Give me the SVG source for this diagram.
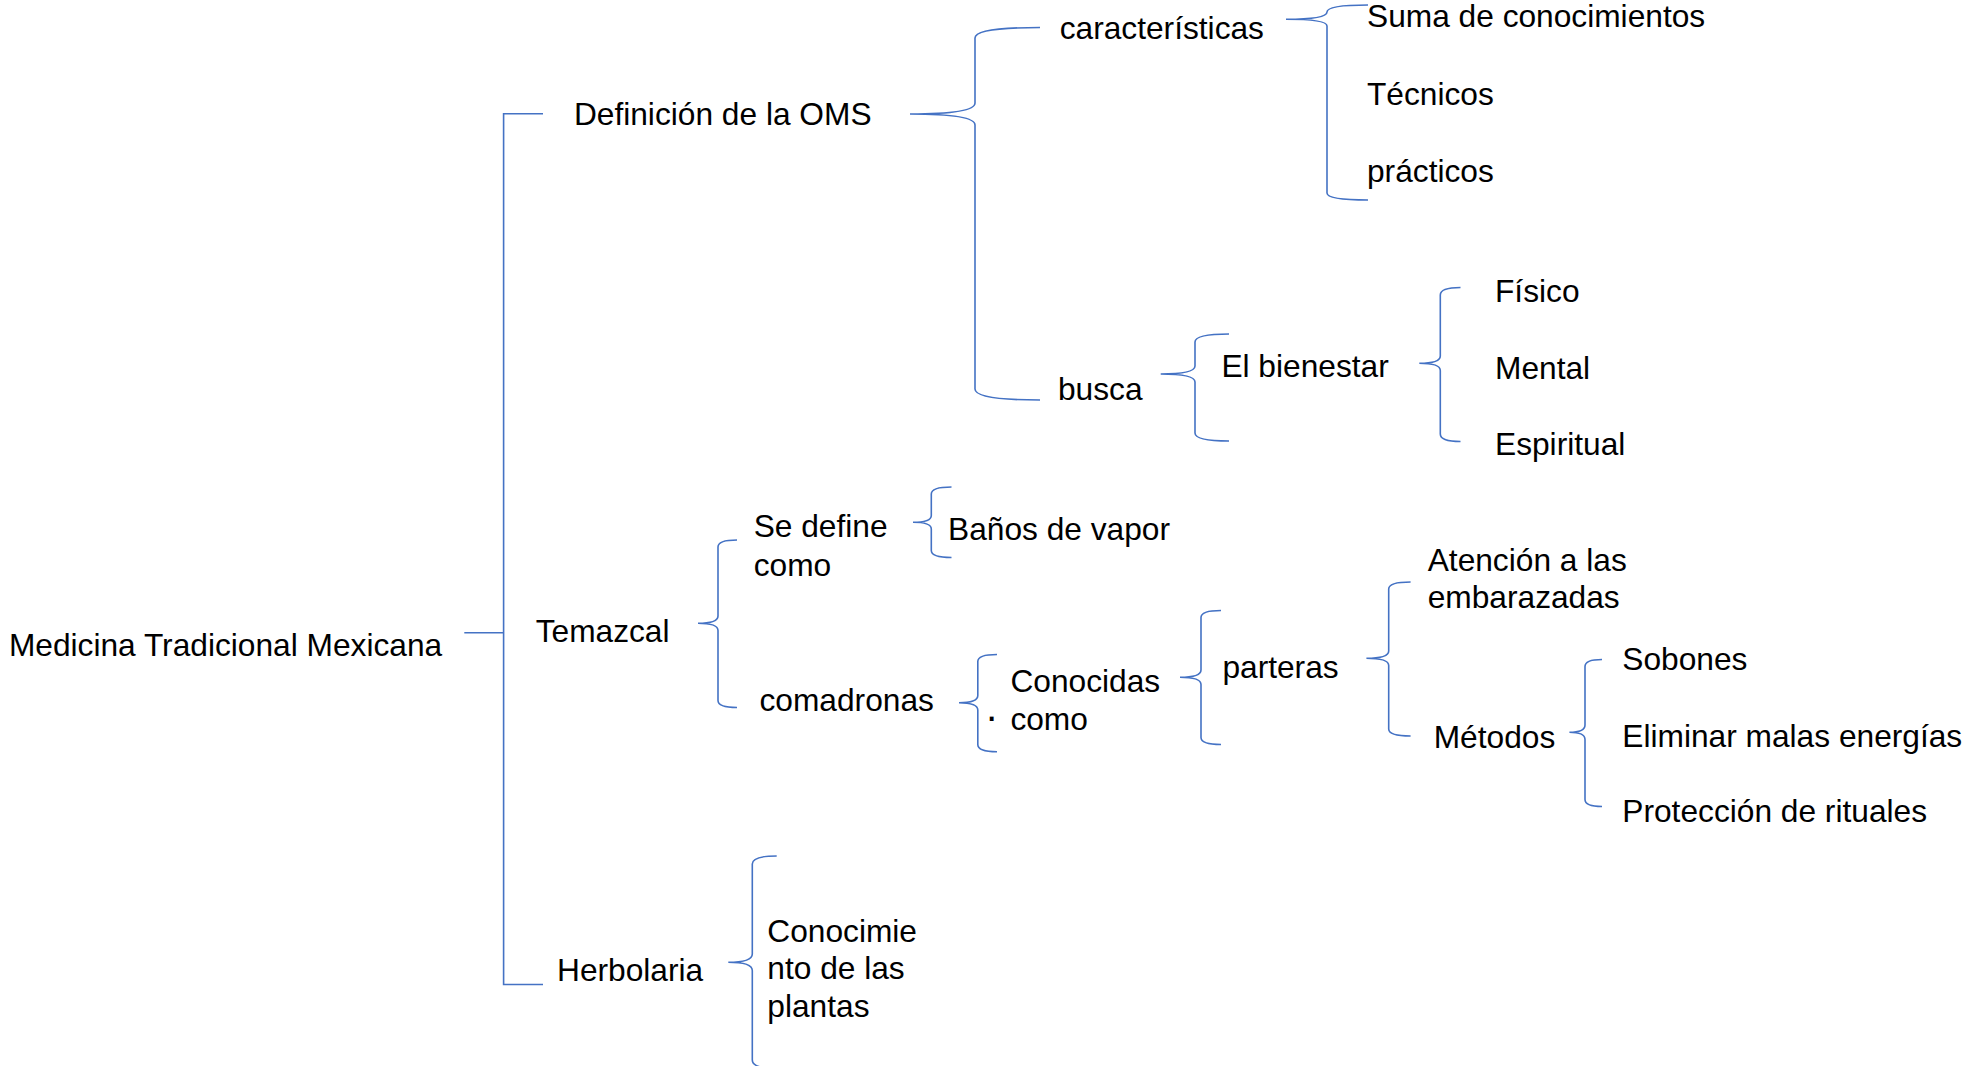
<svg xmlns="http://www.w3.org/2000/svg" width="1972" height="1066" viewBox="0 0 1972 1066">
<style>
  text { font-family: "Liberation Sans", Arial, sans-serif; font-size: 31.7px; fill: #000; }
  .c { fill: none; stroke: #4472C4; stroke-width: 1.6; }
</style>
<rect width="1972" height="1066" fill="#fff"/>
<g id="connectors">
  <path class="c" d="M464.3,632.7 H503.6"/>
  <path class="c" d="M543,113.7 H503.6 V984.5 H543"/>
  <path class="c" d="M1040,27.5 Q975,27.5 975,38 L975,103 Q975,114 910,114 Q975,114 975,125 L975,389 Q975,400 1040,400"/>
  <path class="c" d="M1368,5 Q1327,5 1327,12 Q1327,19.3 1286,19.3 Q1327,19.3 1327,26 L1327,193 Q1327,200 1368,200"/>
  <path class="c" d="M1229,334 Q1195,334 1195,342 L1195,366 Q1195,374 1160.7,374 Q1195,374 1195,382 L1195,433 Q1195,441 1229,441"/>
  <path class="c" d="M1460.5,287.5 Q1440.3,287.5 1440.3,295 L1440.3,356 Q1440.3,363.3 1419.3,363.3 Q1440.3,363.3 1440.3,370.5 L1440.3,434 Q1440.3,441.5 1460.5,441.5"/>
  <path class="c" d="M737,540 Q718,540 718,547 L718,616 Q718,623.3 698,623.3 Q718,623.3 718,630.5 L718,700.5 Q718,707.5 737,707.5"/>
  <path class="c" d="M951.5,487 Q931.3,487 931.3,494 L931.3,515.5 Q931.3,522.3 913,522.3 Q931.3,522.3 931.3,529 L931.3,550.5 Q931.3,557.5 951.5,557.5"/>
  <path class="c" d="M997,654.5 Q977.8,654.5 977.8,661.5 L977.8,695.5 Q977.8,702.7 959,702.7 Q977.8,702.7 977.8,710 L977.8,744.5 Q977.8,751.7 997,751.7"/>
  <path class="c" d="M1221,610.5 Q1201,610.5 1201,617.5 L1201,670 Q1201,677.3 1180,677.3 Q1201,677.3 1201,684.5 L1201,737.5 Q1201,744.5 1221,744.5"/>
  <path class="c" d="M1410.6,582 Q1388.7,582 1388.7,589 L1388.7,651 Q1388.7,658.3 1366.4,658.3 Q1388.7,658.3 1388.7,665.5 L1388.7,729 Q1388.7,736 1410.6,736"/>
  <path class="c" d="M1602,659.5 Q1585,659.5 1585,666.5 L1585,725 Q1585,732.3 1569.4,732.3 Q1585,732.3 1585,739.5 L1585,799.5 Q1585,806.5 1602,806.5"/>
  <path class="c" d="M776.7,856 Q752.3,856 752.3,864 L752.3,954 Q752.3,962.3 728.3,962.3 Q752.3,962.3 752.3,970.5 L752.3,1060 Q752.3,1068.5 776.7,1068.5"/>
</g>
<g id="root"><text x="8.9" y="656">Medicina Tradicional Mexicana</text></g>
<g id="definicion"><text x="573.9" y="125">Definición de la OMS</text></g>
<g id="temazcal"><text x="535.7" y="642">Temazcal</text></g>
<g id="herbolaria"><text x="557" y="981">Herbolaria</text></g>
<g id="caracteristicas"><text x="1059.7" y="38.5">características</text></g>
<g id="busca"><text x="1058" y="399.5">busca</text></g>
<g id="suma"><text x="1367" y="27">Suma de conocimientos</text></g>
<g id="tecnicos"><text x="1367" y="105">Técnicos</text></g>
<g id="practicos"><text x="1367" y="181.5">prácticos</text></g>
<g id="bienestar"><text x="1221.4" y="377">El bienestar</text></g>
<g id="fisico"><text x="1495" y="302">Físico</text></g>
<g id="mental"><text x="1495" y="379">Mental</text></g>
<g id="espiritual"><text x="1495" y="455">Espiritual</text></g>
<g id="sedefine"><text x="753.7" y="536.7">Se define</text><text x="753.7" y="575.7">como</text></g>
<g id="banos"><text x="948" y="540">Baños de vapor</text></g>
<g id="comadronas"><text x="759.5" y="711">comadronas</text></g>
<g id="conocidas"><text x="985" y="730" style="font-size:40px">·</text><text x="1010.4" y="691.7">Conocidas</text><text x="1010.4" y="730">como</text></g>
<g id="parteras"><text x="1222.4" y="678.3">parteras</text></g>
<g id="atencion"><text x="1427.7" y="571">Atención a las</text><text x="1427.7" y="608.3">embarazadas</text></g>
<g id="metodos"><text x="1433.7" y="748.3">Métodos</text></g>
<g id="sobones"><text x="1622.3" y="670">Sobones</text></g>
<g id="eliminar"><text x="1622.3" y="747.3">Eliminar malas energías</text></g>
<g id="proteccion"><text x="1622.3" y="821.7">Protección de rituales</text></g>
<g id="conocimiento"><text x="767.3" y="941.7">Conocimie</text><text x="767.3" y="979.3">nto de las</text><text x="767.3" y="1016.9">plantas</text></g>
</svg>
